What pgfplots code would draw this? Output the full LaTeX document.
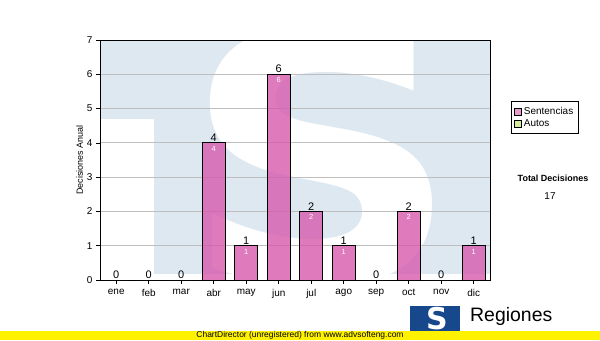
\documentclass[border=0pt]{standalone}
\usepackage{pgfplots}
\pgfplotsset{compat=1.18}
\usepackage{fontspec}
\setmainfont{Liberation Sans}
\newfontfamily\djb{DejaVu Sans}
\definecolor{wm}{RGB}{221,232,241}
\definecolor{barc}{RGB}{214,86,171}
\definecolor{barl}{RGB}{224,128,192}
\definecolor{autos}{RGB}{214,236,160}
\definecolor{logob}{RGB}{24,72,140}
\definecolor{gridc}{RGB}{190,190,190}
\pgfplotsset{
  sentleg/.style={legend image code/.code={\draw[fill=barl,draw=black,line width=0.5pt] (0bp,-3.5bp) rectangle (7bp,3.5bp);}},
  autoleg/.style={legend image code/.code={\draw[fill=autos,draw=black,line width=0.5pt] (0bp,-3.5bp) rectangle (7bp,3.5bp);}},
}
\begin{document}
\begin{tikzpicture}[x=1bp,y=1bp]
\useasboundingbox (0,0) rectangle (600,340);
\path[fill=white] (0,0) rectangle (600,340);
\begin{scope}
\clip (100,60) rectangle (490,300);
\fill[wm] (100,300) rectangle (490,221);
\fill[wm] (154,221) rectangle (490,66);
\node[text=white, inner sep=0pt, anchor=center, xscale=1.12] at (322,184) {\fontsize{345bp}{345bp}\selectfont\djb\bfseries S};
\end{scope}
\begin{axis}[
  at={(100bp,60bp)}, anchor=south west,
  scale only axis, width=390bp, height=240bp,
  xmin=-0.5, xmax=11.5, ymin=0, ymax=7,
  xtick={0,...,11},
  xticklabels={ene,feb,mar,abr,may,jun,jul,ago,sep,oct,nov,dic},
  ytick={0,...,7},
  ymajorgrids, grid style={color=gridc, line width=0.8pt},
  axis line style={black, line width=0.9pt},
  tick style={black, line width=0.6pt},
  tick align=outside, major tick length=4bp,
  xtick pos=bottom, ytick pos=left,
  tick label style={font=\fontsize{10}{12}\selectfont},
  xticklabel style={yshift=-2bp},
  /pgf/number format/assume math mode=true,
  ylabel={Decisiones Anual},
  ylabel style={font=\fontsize{9}{11}\selectfont, at={(axis description cs:-0.052,0.5)}, anchor=center},
  legend style={at={(1.054,0.746)}, anchor=north west, draw=black, line width=0.8pt,
    font=\fontsize{10}{11}\selectfont, inner xsep=3bp, inner ysep=4bp, row sep=-0.5bp,
    cells={anchor=west}, legend cell align=left},
]
\addplot[ybar, bar shift=0pt, bar width=23bp, fill=barc, fill opacity=0.78, draw=black, line width=0.8pt,
  sentleg,
  nodes near coords,
  nodes near coords style={font=\fontsize{11}{12}\selectfont, text=black, text opacity=1, opacity=1, anchor=south, inner sep=1bp}]
  coordinates {(0,0) (1,0) (2,0) (3,4) (4,1) (5,6) (6,2) (7,1) (8,0) (9,2) (10,0) (11,1)};
\addlegendentry{Sentencias}
\addlegendimage{autoleg}
\addlegendentry{Autos}
\addplot[ybar, bar shift=0pt, bar width=23bp, draw=none, fill=none, forget plot,
  nodes near coords,
  nodes near coords style={font=\fontsize{7.5}{8}\selectfont, text=white, anchor=north, inner sep=0pt, yshift=-3bp}]
  coordinates {(3,4) (4,1) (5,6) (6,2) (7,1) (9,2) (11,1)};
\end{axis}
\node[font=\bfseries\fontsize{9}{11}\selectfont] at (553,162) {Total Decisiones};
\node[font=\fontsize{10}{12}\selectfont] at (550,144) {17};
\fill[logob] (410,8) rectangle (460,34);
\node[text=white, inner sep=0pt] at (437,21) {\fontsize{30bp}{30bp}\selectfont\djb\bfseries S};
\node[anchor=base west, inner sep=0pt, font=\fontsize{19.5}{22}\selectfont] at (470,18.5) {Regiones};
\node[anchor=base west, inner sep=0pt, font=\fontsize{8}{9}\selectfont] at (470,3) {Tribunal Supremo de Justicia};
\fill[yellow] (0,0) rectangle (600,9);
\node[anchor=base, inner sep=0pt, font=\fontsize{8.5}{9}\selectfont] at (300,2.5) {ChartDirector (unregistered) from www.advsofteng.com};
\end{tikzpicture}
\end{document}
